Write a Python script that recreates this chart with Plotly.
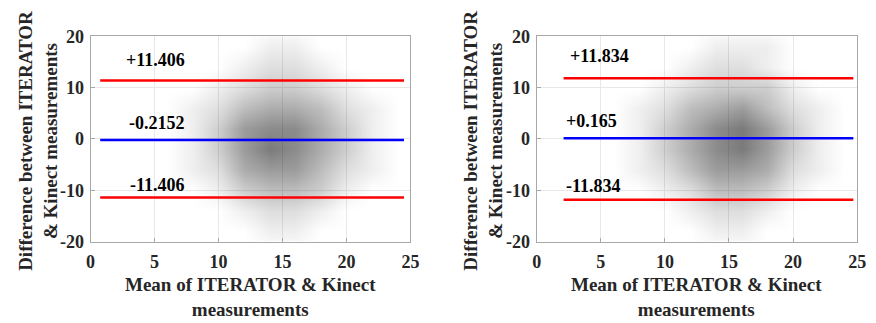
import plotly.graph_objects as go

# ---- data ----
x_centers = [4, 6, 8, 10, 12, 14, 16, 18, 20, 22, 24, 26]
y_centers = [-22, -18, -14, -10, -6, -2, 2, 6, 10, 14, 18, 22]

# estimated point-density (relative darkness) of the scatter clouds
density_left = [
    [0, 0, 0, 0, 0, 0, 0, 0, 0, 0, 0, 0],
    [0, 0, 0, 0, 0, 1, 1, 0, 0, 0, 0, 0],
    [0, 0, 0, 0, 1, 2, 2, 1, 0, 0, 0, 0],
    [0, 0, 0, 1, 3, 4, 4, 3, 1, 0, 0, 0],
    [0, 0, 1, 2, 5, 6, 6, 4, 2, 1, 0, 0],
    [0, 0, 1, 3, 6, 8, 7, 5, 3, 1, 0, 0],
    [0, 0, 1, 3, 6, 7, 7, 5, 3, 1, 0, 0],
    [0, 0, 1, 2, 4, 5, 5, 4, 2, 1, 0, 0],
    [0, 0, 0, 1, 2, 3, 3, 2, 1, 0, 0, 0],
    [0, 0, 0, 0, 1, 2, 2, 1, 0, 0, 0, 0],
    [0, 0, 0, 0, 0, 1, 1, 0, 0, 0, 0, 0],
    [0, 0, 0, 0, 0, 0, 0, 0, 0, 0, 0, 0],
]
density_right = [
    [0, 0, 0, 0, 0, 0, 0, 0, 0, 0, 0, 0],
    [0, 0, 0, 0, 0, 1, 1, 0, 0, 0, 0, 0],
    [0, 0, 0, 0, 1, 2, 2, 1, 0, 0, 0, 0],
    [0, 0, 0, 1, 2, 4, 4, 3, 1, 0, 0, 0],
    [0, 0, 1, 2, 4, 6, 6, 5, 2, 1, 0, 0],
    [0, 0, 1, 3, 5, 7, 8, 6, 3, 1, 0, 0],
    [0, 0, 1, 3, 5, 7, 8, 6, 3, 1, 0, 0],
    [0, 0, 1, 2, 4, 5, 6, 4, 2, 1, 0, 0],
    [0, 0, 0, 1, 2, 3, 3, 3, 1, 0, 0, 0],
    [0, 0, 0, 0, 1, 2, 2, 1, 0, 0, 0, 0],
    [0, 0, 0, 0, 0, 1, 1, 1, 0, 0, 0, 0],
    [0, 0, 0, 0, 0, 0, 0, 0, 0, 0, 0, 0],
]

# limits of agreement and bias
left_upper, left_bias, left_lower = 11.406, -0.2152, -11.406
right_upper, right_bias, right_lower = 11.834, 0.165, -11.834
left_line_x = [0.75, 24.5]
right_line_x = [2.1, 24.7]
left_labels = ["+11.406", "-0.2152", "-11.406"]
right_labels = ["+11.834", "+0.165", "-11.834"]
left_label_pos = [(5.1, 15.3), (5.2, 3.15), (5.2, -8.9)]
right_label_pos = [(4.9, 16.1), (4.3, 3.45), (4.4, -9.2)]

x_ticks = [0, 5, 10, 15, 20, 25]
y_ticks = [-20, -10, 0, 10, 20]

x_title = "Mean of ITERATOR & Kinect<br>measurements"
y_title = "Difference between ITERATOR<br>& Kinect measurements"

FONT = "Liberation Serif, Times New Roman, serif"
fig = go.Figure()

scale = [[0, "rgba(0,0,0,0)"], [1, "rgba(0,0,0,0.52)"]]

panels = [
    ("x", "y", density_left, left_line_x, (left_upper, left_bias, left_lower), left_labels, left_label_pos),
    ("x2", "y2", density_right, right_line_x, (right_upper, right_bias, right_lower), right_labels, right_label_pos),
]
for xa, ya, dens, lx, vals, labels, lpos in panels:
    fig.add_trace(go.Heatmap(x=x_centers, y=y_centers, z=dens, colorscale=scale,
                             zmin=0, zmax=8, zsmooth="best", showscale=False,
                             xaxis=xa, yaxis=ya, hoverinfo="skip"))
    colors = ["#ff0000", "#0000ff", "#ff0000"]
    for v, c in zip(vals, colors):
        fig.add_trace(go.Scatter(x=lx, y=[v, v], mode="lines",
                                 line=dict(color=c, width=2.5),
                                 xaxis=xa, yaxis=ya, showlegend=False, hoverinfo="skip"))
    for t, (px, py) in zip(labels, lpos):
        fig.add_annotation(x=px, y=py, xref=xa, yref=ya, text="<b>%s</b>" % t,
                           showarrow=False, font=dict(family=FONT, size=18, color="black"))

ax_common = dict(showgrid=True, gridcolor="#e8e8e8", gridwidth=1,
                 showline=True, linecolor="#a8a8a8", linewidth=1, mirror=True,
                 ticks="inside", ticklen=4, tickcolor="#a8a8a8", zeroline=False,
                 tickfont=dict(family=FONT, size=18, color="#262626"))

fig.update_layout(
    width=876, height=323, margin=dict(l=0, r=0, t=0, b=0),
    paper_bgcolor="white", plot_bgcolor="white", showlegend=False,
    font=dict(family=FONT),
    xaxis=dict(domain=[0.0993, 0.4703], range=[0, 25], tickvals=x_ticks, ticklabelstandoff=4,
               ticktext=["<b>%d</b>" % v for v in x_ticks], anchor="y", **ax_common),
    yaxis=dict(domain=[0.2353, 0.9133], range=[-20, 20], tickvals=y_ticks, ticklabelstandoff=2,
               ticktext=["<b>%d</b>" % v for v in y_ticks], anchor="x", **ax_common),
    xaxis2=dict(domain=[0.6168, 0.9886], range=[0, 25], tickvals=x_ticks, ticklabelstandoff=4,
                ticktext=["<b>%d</b>" % v for v in x_ticks], anchor="y2", **ax_common),
    yaxis2=dict(domain=[0.2353, 0.9133], range=[-20, 20], tickvals=y_ticks, ticklabelstandoff=2,
                ticktext=["<b>%d</b>" % v for v in y_ticks], anchor="x2", **ax_common),
)

title_font = dict(family=FONT, size=19, color="#262626")
for xc, ytc in [(249.5, 34), (703, 486)]:
    fig.add_annotation(x=xc / 876, y=1 - 306 / 323, xref="paper", yref="paper",
                       text="<b>%s</b>" % x_title, showarrow=False, font=title_font,
                       xanchor="center", yanchor="middle")
    fig.add_annotation(x=ytc / 876, y=1 - 139 / 323, xref="paper", yref="paper",
                       text="<b>%s</b>" % y_title, showarrow=False, font=title_font,
                       textangle=-90, xanchor="center", yanchor="middle")

fig.write_html("out.html")
